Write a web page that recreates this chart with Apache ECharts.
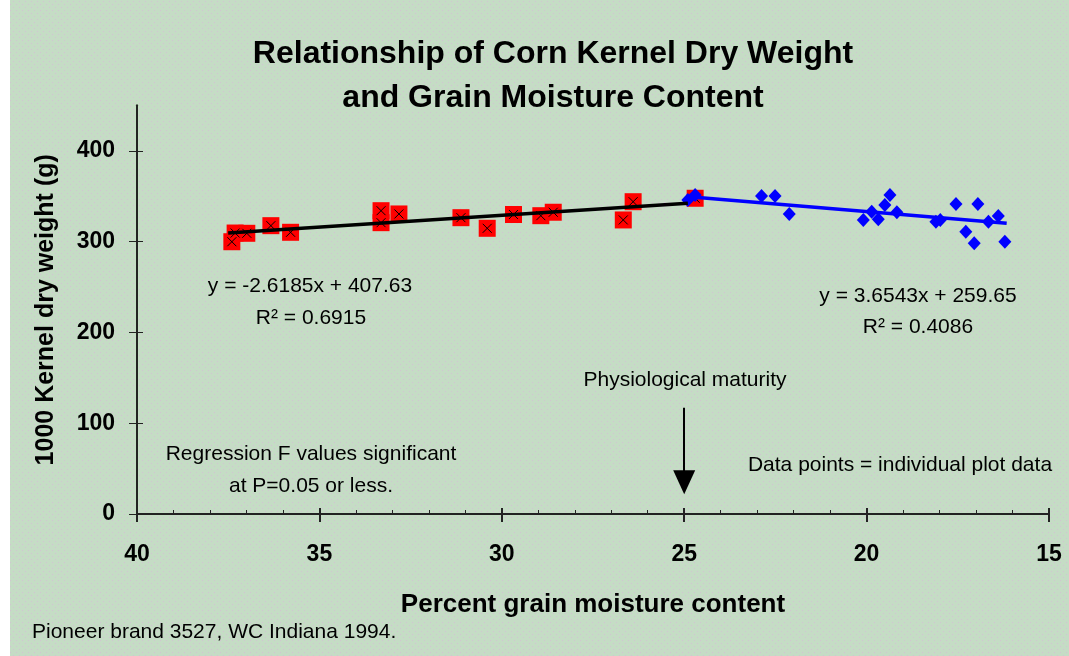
<!DOCTYPE html>
<html>
<head>
<meta charset="utf-8">
<script src="https://cdn.jsdelivr.net/npm/echarts@6/dist/echarts.min.js"></script>
<style>
  html, body { margin: 0; padding: 0; background: #ffffff; }
  #chart { width: 1069px; height: 656px; }
</style>
</head>
<body>
<div id="chart"></div>
<script>
// red squares: kernels before maturity (moisture %, weight g)
var redX = [37.40, 37.31, 36.99, 36.33, 35.79, 33.31, 33.31, 32.82, 31.12, 30.40, 29.68, 28.93, 28.59, 26.67, 26.40, 24.70];
var redY = [300.0, 309.6, 309.3, 317.7, 310.4, 334.2, 321.0, 330.6, 326.5, 314.8, 330.0, 328.7, 332.5, 324.0, 344.1, 347.9];
// blue diamonds: after maturity
var blueX = [24.90, 24.70, 22.88, 22.51, 22.12, 20.09, 19.86, 19.68, 19.50, 19.36, 19.17, 18.10, 17.98, 17.55, 17.28, 17.05, 16.95, 16.66, 16.39, 16.21];
var blueY = [346.0, 351.5, 350.4, 350.4, 330.6, 324.0, 333.1, 324.7, 340.5, 351.5, 332.5, 322.1, 324.0, 341.6, 311.1, 298.3, 341.6, 322.1, 328.4, 300.0];
// trend line ends
var blackTrendX = [37.5, 24.9];
var blackTrendY = [309.6, 342.4];
var blueTrendX = [24.95, 16.16];
var blueTrendY = [349.8, 320.3];
// maturity arrow (moisture, top weight, head weight)
var arrowAt = [25, 117, 35];
var xTicks = [15, 20, 25, 30, 35, 40];
var yTicks = [0, 100, 200, 300, 400];

function pairs(xs, ys) {
  var out = [];
  for (var i = 0; i < xs.length; i++) out.push([xs[i], ys[i]]);
  return out;
}

// dotted paper texture
var tile = document.createElement('canvas');
tile.width = 6; tile.height = 6;
var tc = tile.getContext('2d');
tc.fillStyle = '#c5dcc5';
tc.fillRect(0, 0, 6, 6);
tc.fillStyle = '#d2c3d3';
tc.fillRect(1, 1, 1, 1);
tc.fillRect(4, 4, 1, 1);

var FONT = '"Liberation Sans", Arial, sans-serif';
var NOTE = '21px ' + FONT;
var myChart = echarts.init(document.getElementById('chart'));

var axisCommon = {
  type: 'value',
  axisLine: { lineStyle: { color: '#222', width: 2 } },
  splitLine: { show: false }
};

function note(x, y, text, align) {
  return { type: 'text', x: x, y: y, style: { text: text, font: NOTE, fill: '#000', align: align || 'center', verticalAlign: 'middle' } };
}

option = {
  backgroundColor: { image: tile, repeat: 'repeat' },
  animation: false,
  title: {
    text: 'Relationship of Corn Kernel Dry Weight\nand Grain Moisture Content',
    left: 548,
    top: 27,
    textAlign: 'center',
    textStyle: { fontFamily: FONT, fontSize: 32, fontWeight: 'bold', color: '#000', lineHeight: 44 }
  },
  grid: { left: 137, right: 20, top: 105.6, bottom: 142 },
  xAxis: [
    Object.assign({}, axisCommon, {
      min: 15, max: 40, interval: 5, inverse: true,
      axisTick: { show: true, inside: true, length: 6, lineStyle: { color: '#222', width: 2 } },
      minorTick: { show: true, splitNumber: 5, length: 4, lineStyle: { color: '#222', width: 1 } },
      axisLabel: {
        margin: 29, color: '#000', fontFamily: FONT, fontSize: 23, fontWeight: 'bold',
        customValues: xTicks
      },
      name: 'Percent grain moisture content',
      nameLocation: 'middle',
      nameGap: 78,
      nameTextStyle: { fontFamily: FONT, fontSize: 26, fontWeight: 'bold', color: '#000' }
    }),
    Object.assign({}, axisCommon, {
      min: 15, max: 40, interval: 5, inverse: true, position: 'bottom',
      axisTick: { show: true, inside: false, length: 8, lineStyle: { color: '#222', width: 2 } },
      axisLabel: { show: false }
    })
  ],
  yAxis: [
    Object.assign({}, axisCommon, {
      min: 0, max: 450, interval: 100,
      axisTick: { show: true, inside: true, length: 6, customValues: yTicks, lineStyle: { color: '#222', width: 1 } },
      axisLabel: {
        margin: 22, color: '#000', fontFamily: FONT, fontSize: 23, fontWeight: 'bold',
        customValues: yTicks
      },
      name: '1000 Kernel dry weight (g)',
      nameLocation: 'middle',
      nameGap: 78,
      nameRotate: 90,
      nameTextStyle: { fontFamily: FONT, fontSize: 25, fontWeight: 'bold', color: '#000' }
    }),
    Object.assign({}, axisCommon, {
      min: 0, max: 450, interval: 100, position: 'left',
      axisTick: { show: true, inside: false, length: 8, customValues: yTicks, lineStyle: { color: '#222', width: 1 } },
      axisLabel: { show: false }
    })
  ],
  series: [
    {
      name: 'before', type: 'scatter', data: pairs(redX, redY),
      symbol: 'rect', symbolSize: 17,
      itemStyle: { color: '#ff0000', opacity: 1 }
    },
    {
      name: 'before-x', type: 'scatter', data: pairs(redX, redY),
      symbol: 'path://M0,0L10,10M10,0L0,10', symbolSize: 9,
      itemStyle: { color: 'none', borderColor: '#000', borderWidth: 1, opacity: 1 }
    },
    {
      name: 'trend before', type: 'line', data: pairs(blackTrendX, blackTrendY),
      showSymbol: false, symbol: 'none',
      lineStyle: { color: '#000', width: 3.5 },
      markLine: {
        silent: true,
        symbol: ['none', 'triangle'],
        symbolSize: [22, 24],
        label: { show: false },
        lineStyle: { color: '#000', width: 2, type: 'solid' },
        data: [[{ coord: [arrowAt[0], arrowAt[1]] }, { coord: [arrowAt[0], arrowAt[2]] }]]
      }
    },
    {
      name: 'trend after', type: 'line', data: pairs(blueTrendX, blueTrendY),
      showSymbol: false, symbol: 'none',
      lineStyle: { color: '#0000ff', width: 3.5 }
    },
    {
      name: 'after', type: 'scatter', data: pairs(blueX, blueY),
      symbol: 'diamond', symbolSize: [13, 14],
      itemStyle: { color: '#0000ff', opacity: 1 }
    }
  ],
  graphic: [
    { type: 'rect', left: 0, top: 0, shape: { width: 10, height: 656 }, style: { fill: '#ffffff' }, z: 100 },
    note(310, 286, 'y = -2.6185x + 407.63'),
    note(311, 318, 'R\u00b2 = 0.6915'),
    note(918, 296, 'y = 3.6543x + 259.65'),
    note(918, 327, 'R\u00b2 = 0.4086'),
    note(685, 380, 'Physiological maturity'),
    note(311, 454, 'Regression F values significant'),
    note(311, 486, 'at P=0.05 or less.'),
    note(900, 465, 'Data points = individual plot data'),
    note(32, 632, 'Pioneer brand 3527, WC Indiana 1994.', 'left')
  ]
};
myChart.setOption(option);
</script>
</body>
</html>
